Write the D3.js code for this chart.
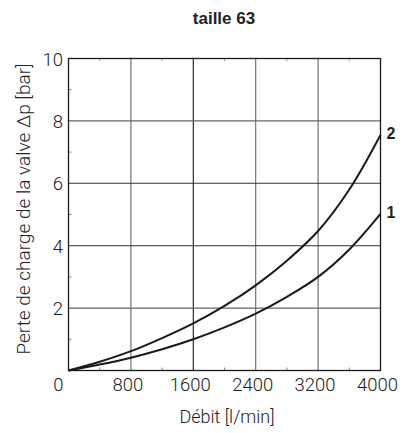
<!DOCTYPE html>
<html>
<head>
<meta charset="utf-8">
<script src="https://cdn.jsdelivr.net/npm/d3@7"></script>
<style>
  html, body { margin: 0; padding: 0; background: #fff; }
  svg { display: block; }
</style>
</head>
<body>
<svg id="chart" width="411" height="433"></svg>
<script>
// Flow rate samples [l/min]
const flow = [0, 400, 800, 1200, 1600, 2000, 2400, 2800, 3200, 3600, 4000];
// Pressure drop [bar] for each valve variant
const curve1 = [0, 0.19, 0.41, 0.68, 1.00, 1.38, 1.82, 2.36, 3.00, 3.88, 5.02];
const curve2 = [0, 0.28, 0.62, 1.04, 1.51, 2.07, 2.73, 3.52, 4.47, 5.80, 7.55];
const seriesNames = ["1", "2"];
const xTicks = [0, 800, 1600, 2400, 3200, 4000];
const yTicks = [2, 4, 6, 8, 10];
const xMinor = [400, 1200, 2000, 2800, 3600];
const yMinor = [1, 3, 5, 7, 9];

const svg = d3.select("#chart");
const m = { left: 68.5, right: 380.5, top: 58.5, bottom: 370.5 };

const x = d3.scaleLinear().domain([0, 4000]).range([m.left, m.right]);
const y = d3.scaleLinear().domain([0, 10]).range([m.bottom, m.top]);

const lightFont = "Roboto, 'DejaVu Sans', sans-serif";

// Title
svg.append("text")
  .attr("x", 224).attr("y", 24)
  .attr("text-anchor", "middle")
  .attr("font-family", "'Liberation Sans', Arial, sans-serif")
  .attr("font-weight", "bold")
  .attr("font-size", 17)
  .attr("fill", "#222")
  .text("taille 63");

// Grid
const strong = new Set([1600]);
const strongY = new Set([4, 6]);
svg.append("g").selectAll("line").data(xTicks.slice(1, -1)).join("line")
  .attr("x1", d => x(d)).attr("x2", d => x(d))
  .attr("y1", m.top).attr("y2", m.bottom)
  .attr("stroke", d => strong.has(d) ? "#1a1a1a" : "#666")
  .attr("stroke-width", 1.1);
svg.append("g").selectAll("line").data(yTicks.slice(0, -1)).join("line")
  .attr("x1", m.left).attr("x2", m.right)
  .attr("y1", d => y(d)).attr("y2", d => y(d))
  .attr("stroke", d => strongY.has(d) ? "#333" : "#666")
  .attr("stroke-width", 1.1);

// Minor tick marks along the frame
svg.append("g").selectAll("line").data(xMinor).join("line")
  .attr("x1", d => x(d)).attr("x2", d => x(d))
  .attr("y1", m.bottom).attr("y2", m.bottom - 3)
  .attr("stroke", "#888").attr("stroke-width", 1);
svg.append("g").selectAll("line").data(xMinor).join("line")
  .attr("x1", d => x(d)).attr("x2", d => x(d))
  .attr("y1", m.top).attr("y2", m.top + 3)
  .attr("stroke", "#aaa").attr("stroke-width", 1);
svg.append("g").selectAll("line").data(yMinor).join("line")
  .attr("x1", m.left).attr("x2", m.left + 3)
  .attr("y1", d => y(d)).attr("y2", d => y(d))
  .attr("stroke", "#888").attr("stroke-width", 1);

// Frame
svg.append("rect")
  .attr("x", m.left).attr("y", m.top)
  .attr("width", m.right - m.left).attr("height", m.bottom - m.top)
  .attr("fill", "none").attr("stroke", "#1a1a1a").attr("stroke-width", 1.3);

// Axis tick labels
svg.append("g").selectAll("text").data(xTicks).join("text")
  .attr("x", d => x(d) + (d === 0 ? -10 : -3))
  .attr("y", 391)
  .attr("text-anchor", "middle")
  .attr("font-family", lightFont).attr("font-weight", 300)
  .attr("font-size", 18.5).attr("fill", "#222")
  .text(d => d);
svg.append("g").selectAll("text").data(yTicks).join("text")
  .attr("x", 63)
  .attr("y", d => y(d) + 7)
  .attr("text-anchor", "end")
  .attr("font-family", lightFont).attr("font-weight", 300)
  .attr("font-size", 18.5).attr("fill", "#222")
  .text(d => d);

// Axis titles
svg.append("text")
  .attr("x", 227).attr("y", 423)
  .attr("text-anchor", "middle")
  .attr("font-family", lightFont).attr("font-weight", 300)
  .attr("font-size", 18).attr("fill", "#222")
  .text("Débit [l/min]");
svg.append("text")
  .attr("transform", "translate(30,209) rotate(-90)")
  .attr("text-anchor", "middle")
  .attr("font-family", lightFont).attr("font-weight", 300)
  .attr("font-size", 19).attr("fill", "#222")
  .text("Perte de charge de la valve Δp [bar]");

// Curves
const line = d3.line()
  .x(d => x(d[0])).y(d => y(d[1]))
  .curve(d3.curveCatmullRom.alpha(0.5));
const series = [curve1, curve2].map((vals, i) => ({
  name: seriesNames[i],
  points: flow.map((f, j) => [f, vals[j]])
}));
svg.append("g").selectAll("path").data(series).join("path")
  .attr("d", d => line(d.points))
  .attr("fill", "none").attr("stroke", "#1a1a1a").attr("stroke-width", 2);

// Curve labels at the right end
svg.append("g").selectAll("text").data(series).join("text")
  .attr("x", m.right + 6)
  .attr("y", d => y(d.points[d.points.length - 1][1]) + 4)
  .attr("font-family", "'Liberation Sans', Arial, sans-serif")
  .attr("font-weight", "bold").attr("font-size", 16).attr("fill", "#222")
  .text(d => d.name);
</script>
</body>
</html>
